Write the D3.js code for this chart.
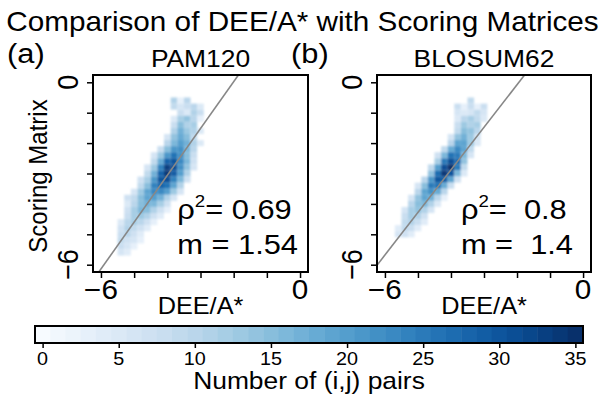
<!DOCTYPE html>
<html>
<head>
<meta charset="utf-8">
<script src="https://cdn.jsdelivr.net/npm/d3@7"></script>
<style>
  html, body { margin: 0; padding: 0; background: #fff; }
  svg { display: block; }
  text { font-family: "Liberation Sans", Arial, Helvetica, sans-serif; fill: #000; white-space: pre; }
</style>
</head>
<body>
<svg id="chart" width="605" height="394"></svg>
<script>
// ---- data -------------------------------------------------------------
const panelTags   = ["(a)", "(b)"];
const panelNames  = ["PAM120", "BLOSUM62"];
const rhoSquared  = ["0.69", " 0.8"];
const slopes      = [1.54, 1.4];
const slopeLabels = ["1.54", " 1.4"];
const intercepts  = [3.1, 2.72];
const axisTicks   = [-6, -5, -4, -3, -2, -1, 0];
const axisTickLabels = ["\u22126", "0"];          // only the ends are labelled
const colorTicks  = [0, 5, 10, 15, 20, 25, 30, 35];
const binSize = 0.2;

// 2-D histogram rows: y-centre of row, x-centre of first bin, counts per bin
const pamRowY  = [-0.6, -0.8, -1.0, -1.2, -1.4, -1.6, -1.8, -2.0, -2.2, -2.4, -2.6, -2.8, -3.0,
                  -3.2, -3.4, -3.6, -3.8, -4.0, -4.2, -4.4, -4.6, -4.8, -5.0, -5.2, -5.4, -5.6];
const pamRowX0 = [-3.8, -3.8, -3.6, -3.8, -3.8, -3.8, -4.0, -4.0, -4.2, -4.4, -4.4, -4.6, -4.6,
                  -4.8, -4.8, -5.0, -5.2, -5.2, -5.2, -5.2, -5.4, -5.4, -5.4, -5.4, -5.4, -5.4];
const pamCounts = [
  [11, 3, 10],
  [9, 6, 8, 10, 5],
  [8, 5, 11, 8],
  [5, 12, 14, 10, 3],
  [8, 15, 11, 12],
  [11, 17, 13, 11, 5],
  [6, 14, 18, 15, 9],
  [10, 16, 20, 17, 11, 5],
  [8, 15, 21, 22, 16, 10],
  [6, 13, 21, 26, 22, 15, 8],
  [9, 18, 28, 30, 23, 16, 7],
  [6, 13, 24, 33, 31, 22, 14, 6],
  [9, 17, 28, 34, 29, 20, 11],
  [7, 12, 21, 30, 31, 24, 16, 7],
  [9, 15, 24, 28, 26, 19, 11],
  [6, 13, 19, 23, 23, 20, 13, 6],
  [7, 9, 15, 19, 20, 17, 11, 6],
  [5, 10, 15, 17, 16, 12, 7],
  [7, 12, 16, 15, 11, 7, 3],
  [8, 12, 13, 11, 7, 4],
  [5, 10, 12, 10, 7, 3],
  [7, 11, 9, 7, 4],
  [8, 10, 7, 4],
  [9, 7, 6, 3],
  [8, 6, 3],
  [6, 4]
];

const blosumRowY  = [-0.6, -0.8, -1.0, -1.2, -1.4, -1.6, -1.8, -2.0, -2.2, -2.4, -2.6, -2.8, -3.0,
                     -3.2, -3.4, -3.6, -3.8, -4.0, -4.2, -4.4, -4.6, -4.8, -5.0];
const blosumRowX0 = [-3.4, -3.8, -3.8, -3.8, -3.8, -3.8, -4.0, -4.0, -4.2, -4.4, -4.4, -4.6, -4.6,
                     -4.8, -5.0, -5.0, -5.2, -5.2, -5.4, -5.4, -5.4, -5.6, -5.6];
const blosumCounts = [
  [9],
  [8, 3, 8, 3, 8],
  [6, 5, 6, 9, 6],
  [5, 10, 12, 9, 5],
  [8, 13, 11, 12],
  [9, 15, 14, 10],
  [6, 14, 17, 13, 6],
  [10, 19, 19, 13, 5],
  [9, 18, 23, 19, 9],
  [7, 16, 26, 25, 16, 6],
  [12, 25, 31, 27, 14],
  [9, 20, 31, 35, 25, 9],
  [14, 27, 34, 30, 16, 5],
  [10, 21, 30, 29, 19, 7],
  [6, 15, 25, 26, 18, 8],
  [10, 19, 22, 18, 10],
  [6, 14, 19, 17, 10, 3],
  [10, 15, 16, 11, 5],
  [6, 12, 14, 11, 6],
  [8, 12, 11, 7],
  [9, 11, 8, 4],
  [4, 9, 8, 4],
  [6, 7, 4]
];

// ---- layout -----------------------------------------------------------
const svg = d3.select("#chart");
const STRETCH = 1.1;                 // glyphs are drawn a little wide
const font = {title: 27, tag: 28, panel: 24, axis: 23, yaxis: 24, tick: 27, note: 28, sup: 17, cbTick: 18, cbTitle: 24};
const panelBoxes = [{left: 93, right: 308}, {left: 377, right: 591}];
const boxTop = 75, boxBottom = 272;
const domain = [-6.24, 0.24];

const colorMax = 35;
const color = d3.scaleSequential(d3.interpolateBlues).domain([0, colorMax]);

function stretchedText(sel, x, y, str, size, anchor) {
  return sel.append("text")
    .attr("transform", `translate(${x},${y}) scale(${STRETCH},1)`)
    .attr("text-anchor", anchor || "start")
    .attr("font-size", size)
    .text(str);
}
function rotatedText(sel, x, y, str, size) {
  return sel.append("text")
    .attr("transform", `translate(${x},${y}) rotate(-90) scale(1,${STRETCH})`)
    .attr("text-anchor", "middle")
    .attr("font-size", size)
    .text(str);
}

const defs = svg.append("defs");
defs.append("filter").attr("id", "soft")
  .attr("x", "-10%").attr("y", "-10%").attr("width", "120%").attr("height", "120%")
  .append("feGaussianBlur").attr("stdDeviation", 1.2);

// main title
stretchedText(svg, 302.5, 31, "Comparison of DEE/A* with Scoring Matrices", font.title, "middle");

// y-axis title, shared
rotatedText(svg, 47, 176, "Scoring Matrix", font.yaxis);

const histRows = [
  {ys: pamRowY, x0s: pamRowX0, counts: pamCounts},
  {ys: blosumRowY, x0s: blosumRowX0, counts: blosumCounts}
];

panelBoxes.forEach((box, i) => {
  const x = d3.scaleLinear().domain(domain).range([box.left, box.right]);
  const y = d3.scaleLinear().domain(domain).range([boxBottom, boxTop]);
  const g = svg.append("g");

  const clipId = "clip" + i;
  defs.append("clipPath").attr("id", clipId).append("rect")
    .attr("x", box.left).attr("y", boxTop)
    .attr("width", box.right - box.left).attr("height", boxBottom - boxTop);

  // flatten histogram rows into cells
  const h = histRows[i];
  const cells = [];
  h.ys.forEach((yc, r) => {
    h.counts[r].forEach((n, k) => {
      cells.push({x: h.x0s[r] + k * binSize, y: yc, n: n});
    });
  });

  const heat = g.append("g").attr("clip-path", `url(#${clipId})`)
    .append("g").attr("filter", "url(#soft)");
  heat.selectAll("rect").data(cells).join("rect")
    .attr("x", d => x(d.x - binSize / 2))
    .attr("y", d => y(d.y + binSize / 2))
    .attr("width", d => x(d.x + binSize / 2) - x(d.x - binSize / 2))
    .attr("height", d => y(d.y - binSize / 2) - y(d.y + binSize / 2))
    .attr("fill", d => color(d.n));

  // fitted line
  const m = slopes[i], b = intercepts[i];
  g.append("g").attr("clip-path", `url(#${clipId})`)
    .append("line")
    .attr("x1", x(domain[0])).attr("y1", y(m * domain[0] + b))
    .attr("x2", x(domain[1])).attr("y2", y(m * domain[1] + b))
    .attr("stroke", "#878787").attr("stroke-width", 1.6);

  // axes (ticks only; end labels placed below)
  const xAxis = d3.axisBottom(x).tickValues(axisTicks).tickSize(6).tickSizeOuter(0).tickFormat("");
  const yAxis = d3.axisLeft(y).tickValues(axisTicks).tickSize(6).tickSizeOuter(0).tickFormat("");
  g.append("g").attr("transform", `translate(0,${boxBottom})`).call(xAxis)
    .call(s => s.select(".domain").remove())
    .selectAll("line").attr("stroke", "#000").attr("stroke-width", 1.5);
  g.append("g").attr("transform", `translate(${box.left},0)`).call(yAxis)
    .call(s => s.select(".domain").remove())
    .selectAll("line").attr("stroke", "#000").attr("stroke-width", 1.5);

  // box
  g.append("rect")
    .attr("x", box.left).attr("y", boxTop)
    .attr("width", box.right - box.left).attr("height", boxBottom - boxTop)
    .attr("fill", "none").attr("stroke", "#000").attr("stroke-width", 2);

  // tick labels
  [axisTicks[0], axisTicks[axisTicks.length - 1]].forEach((v, k) => {
    stretchedText(g, x(v), 299, axisTickLabels[k], font.tick, "middle");
    rotatedText(g, box.left - 15, y(v), axisTickLabels[k], font.tick);
  });

  // axis title & panel titles
  stretchedText(g, (box.left + box.right) / 2, 314, "DEE/A*", font.axis, "middle");
  stretchedText(g, (box.left + box.right) / 2, 67, panelNames[i], font.panel, "middle");
  stretchedText(g, box.left - 86, 63, panelTags[i], font.tag);

  // correlation and slope annotations
  const nx = x(-3.7);
  const t1 = stretchedText(g, nx, y(-4.5), "", font.note);
  t1.append("tspan").text("\u03c1");
  t1.append("tspan").attr("font-size", font.sup).attr("dy", -12).text("2");
  t1.append("tspan").attr("dy", 12).text("= " + rhoSquared[i]);
  stretchedText(g, nx, y(-5.65), "m = " + slopeLabels[i], font.note);
});

// ---- colour bar -------------------------------------------------------
const cb = {left: 35, right: 583, top: 326, bottom: 343};
const cbX = d3.scaleLinear().domain([-0.5, colorMax + 0.5]).range([cb.left, cb.right]);
const cbSteps = d3.range(0, colorMax + 1);
const cbg = svg.append("g");
cbg.selectAll("rect.step").data(cbSteps).join("rect")
  .attr("class", "step")
  .attr("x", d => cbX(d - 0.5)).attr("y", cb.top)
  .attr("width", d => cbX(d + 0.5) - cbX(d - 0.5) + 0.5)
  .attr("height", cb.bottom - cb.top)
  .attr("fill", d => color(d));
cbg.append("rect")
  .attr("x", cb.left).attr("y", cb.top)
  .attr("width", cb.right - cb.left).attr("height", cb.bottom - cb.top)
  .attr("fill", "none").attr("stroke", "#000").attr("stroke-width", 2);
cbg.append("g").attr("transform", `translate(0,${cb.bottom})`)
  .call(d3.axisBottom(cbX).tickValues(colorTicks).tickSize(5).tickSizeOuter(0).tickFormat(""))
  .call(s => s.select(".domain").remove())
  .selectAll("line").attr("stroke", "#000").attr("stroke-width", 1.5);
colorTicks.forEach(v => stretchedText(cbg, cbX(v), 365, String(v), font.cbTick, "middle"));
stretchedText(cbg, 309, 389, "Number of (i,j) pairs", font.cbTitle, "middle");
</script>
</body>
</html>
